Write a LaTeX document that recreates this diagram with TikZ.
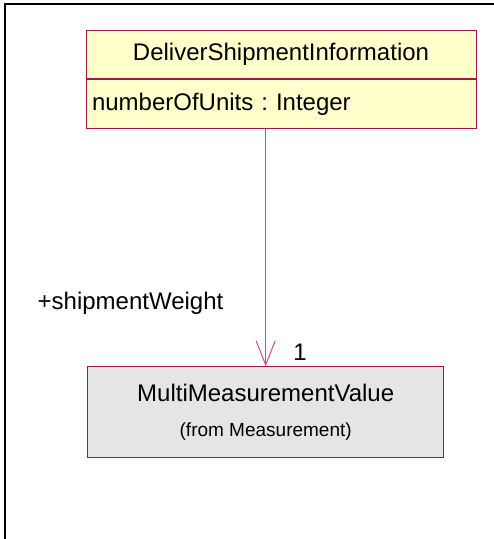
\documentclass[tikz,border=0pt]{standalone}
\usepackage{fontspec}
\setmainfont{Liberation Sans}
\usepackage{xcolor}
\usepackage{tikz}
\usetikzlibrary{positioning, arrows.meta}

\definecolor{umlborder}{HTML}{A3164A}
\definecolor{umlline}{HTML}{C4507E}
\definecolor{umlyellow}{HTML}{FFFFCC}
\definecolor{umlgray}{HTML}{E5E5E5}
\frenchspacing

\begin{document}
\begin{tikzpicture}[
  x=1pt, y=-1pt,
  frame/.style={line width=2.5pt, black},
  classname/.style={rectangle, draw=umlborder, line width=0.9pt, fill=umlyellow, minimum width=390pt, minimum height=48pt, inner sep=0pt, font=\fontsize{24}{28}\selectfont},
  classattr/.style={rectangle, draw=umlborder, line width=0.9pt, fill=umlyellow, text width=378pt, inner xsep=6pt, inner ysep=0pt, minimum height=49.3pt, align=left, font=\fontsize{24}{28}\selectfont},
  refclass/.style={rectangle, draw=umlborder, line width=0.9pt, fill=umlgray, minimum width=356pt, minimum height=90.6pt, inner sep=0pt, align=center, font=\fontsize{24}{35}\selectfont},
  assoc/.style={-{Straight Barb[length=24pt, width=19pt, line width=1pt]}, line width=1pt, umlline},
  role/.style={font=\fontsize{24}{28}\selectfont, anchor=base, inner sep=0pt}
]
\useasboundingbox (0,0) rectangle (494,539);

% Frame
\draw[frame] (5,539) -- (5,4) -- (494,4);

% Classes
\node[classname] (dsi) at (281,54.7) {DeliverShipmentInformation};
\node[classattr, below=0pt of dsi] (dsiattr) {numberOfUnits : Integer};
\node[refclass] (mmv) at (265.7,412) {MultiMeasurementValue\\{\fontsize{19}{22}\selectfont(from Measurement)}};

% Association
\draw[assoc] (mmv.north |- dsiattr.south) -- (mmv.north);
\node[role] (rolename) at (130.5,309) {+shipmentWeight};
\node[role] (mult) at (300,360) {1};

\end{tikzpicture}
\end{document}
